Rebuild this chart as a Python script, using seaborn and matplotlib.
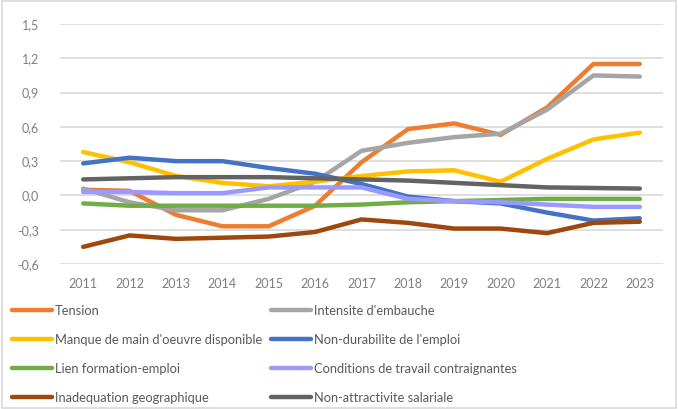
import numpy as np
import pandas as pd
import seaborn as sns
import matplotlib.pyplot as plt
from matplotlib.ticker import FuncFormatter
from matplotlib.patches import Rectangle

# données
years = [2011, 2012, 2013, 2014, 2015, 2016, 2017, 2018, 2019, 2020, 2021, 2022, 2023]
tension = [0.05, 0.04, -0.17, -0.27, -0.27, -0.09, 0.29, 0.58, 0.63, 0.53, 0.77, 1.15, 1.15]
intensite = [0.06, -0.06, -0.13, -0.13, -0.03, 0.12, 0.39, 0.46, 0.51, 0.54, 0.75, 1.05, 1.04]
manque = [0.38, 0.29, 0.17, 0.11, 0.08, 0.12, 0.17, 0.21, 0.22, 0.12, 0.32, 0.49, 0.55]
non_durabilite = [0.28, 0.33, 0.30, 0.30, 0.24, 0.19, 0.10, -0.01, -0.05, -0.07, -0.15, -0.22, -0.20]
lien = [-0.07, -0.09, -0.09, -0.09, -0.09, -0.09, -0.08, -0.06, -0.05, -0.04, -0.03, -0.03, -0.03]
conditions = [0.03, 0.03, 0.02, 0.02, 0.07, 0.07, 0.07, -0.03, -0.05, -0.06, -0.08, -0.10, -0.10]
inadequation = [-0.45, -0.35, -0.38, -0.37, -0.36, -0.32, -0.21, -0.24, -0.29, -0.29, -0.33, -0.24, -0.23]
non_attractivite = [0.14, 0.15, 0.16, 0.16, 0.16, 0.15, 0.14, 0.13, 0.11, 0.09, 0.07, 0.065, 0.06]

series = {
    "Tension": tension,
    "Intensite d'embauche": intensite,
    "Manque de main d'oeuvre disponible": manque,
    "Non-durabilite de l'emploi": non_durabilite,
    "Lien formation-emploi": lien,
    "Conditions de travail contraignantes": conditions,
    "Inadequation geographique": inadequation,
    "Non-attractivite salariale": non_attractivite,
}
colors = ["#ED7D31", "#A5A5A5", "#FFC000", "#4472C4",
          "#70AD47", "#9999FF", "#9E480E", "#636363"]

rows = []
for name, vals in series.items():
    for i, v in enumerate(vals):
        rows.append({"idx": i, "val": v, "serie": name})
df = pd.DataFrame(rows)

sns.set_style("white")
plt.rcParams['font.family'] = ['Lato', 'DejaVu Sans']

fig = plt.figure(figsize=(6.78, 4.09), dpi=100)
ax = fig.add_axes([60 / 678, 1 - 264 / 409, 603 / 678, 240 / 409])

sns.lineplot(data=df, x="idx", y="val", hue="serie", palette=colors,
             hue_order=list(series.keys()), linewidth=3.2, ax=ax, legend=False,
             solid_capstyle="round")

ax.set_xlim(-0.5, len(years) - 0.5)
ax.set_ylim(-0.6, 1.5)
ax.set_yticks(np.arange(-0.6, 1.51, 0.3))
ax.yaxis.set_major_formatter(FuncFormatter(lambda v, p: f"{v:.1f}".replace(".", ",").replace("-0,0", "0,0")))
ax.set_xticks(range(len(years)))
ax.set_xticklabels([str(y) for y in years])
ax.grid(axis="y", color="#D9D9D9", linewidth=1.2)
ax.set_axisbelow(True)
for s in ax.spines.values():
    s.set_visible(False)
ax.tick_params(axis="both", length=0, colors="#7F7F7F", labelsize=9)
ax.tick_params(axis="y", pad=15)
ax.tick_params(axis="x", pad=10)
ax.set_xlabel("")
ax.set_ylabel("")

# légende en deux colonnes, sous le graphique
handles = ax.get_lines()[:len(series)]
names = list(series.keys())
order = [0, 2, 4, 6, 1, 3, 5, 7]
leg = fig.legend([handles[i] for i in order], [names[i] for i in order],
                 ncol=2, loc="upper left", bbox_to_anchor=(0.010, 0.268),
                 frameon=False, fontsize=9.3, handlelength=3.1, handletextpad=0.23,
                 columnspacing=0.7, labelspacing=1.32, borderaxespad=0)
for t in leg.get_texts():
    t.set_color("#595959")

fig.patches.append(Rectangle((0.003, 0.003), 0.994, 0.994, transform=fig.transFigure,
                             fill=False, edgecolor="#D9D9D9", linewidth=1.2))

fig.savefig("out.png", dpi=100)
